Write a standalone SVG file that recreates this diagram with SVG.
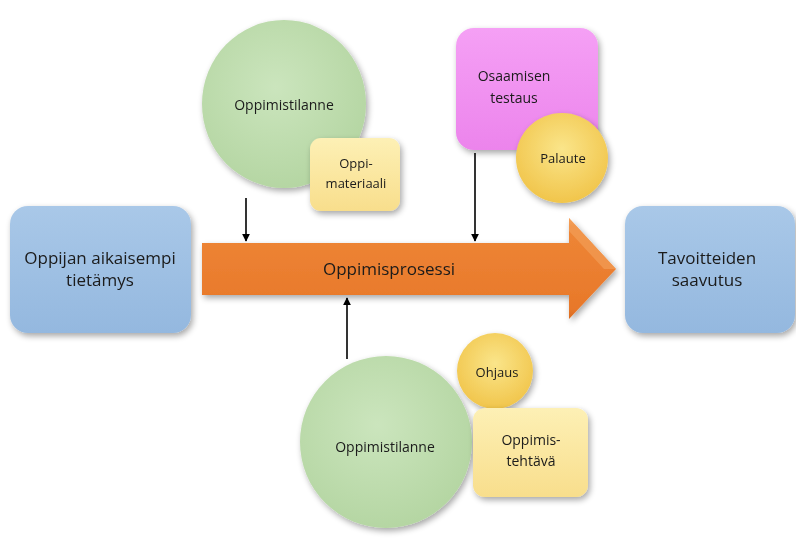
<svg xmlns="http://www.w3.org/2000/svg" width="796" height="547" viewBox="0 0 796 547">
<defs>
<filter id="sh" x="-20%" y="-20%" width="140%" height="140%">
<feGaussianBlur in="SourceAlpha" stdDeviation="3"/>
<feOffset dx="2" dy="3" result="b"/>
<feComponentTransfer><feFuncA type="linear" slope="0.35"/></feComponentTransfer>
<feMerge><feMergeNode/><feMergeNode in="SourceGraphic"/></feMerge>
</filter>
<linearGradient id="gBlue" x1="0" y1="0" x2="0" y2="1"><stop offset="0" stop-color="#a9c8e8"/><stop offset="1" stop-color="#94b8df"/></linearGradient>
<radialGradient id="gGreen" cx="0.45" cy="0.4" r="0.6"><stop offset="0" stop-color="#cbe5bd"/><stop offset="1" stop-color="#b5d6a3"/></radialGradient>
<linearGradient id="gYel" x1="0" y1="0" x2="0" y2="1"><stop offset="0" stop-color="#fdf0b5"/><stop offset="1" stop-color="#f8de8c"/></linearGradient>
<radialGradient id="gGold" cx="0.5" cy="0.4" r="0.6"><stop offset="0" stop-color="#fae58a"/><stop offset="1" stop-color="#f1c54b"/></radialGradient>
<linearGradient id="gPink" x1="0" y1="0" x2="0" y2="1"><stop offset="0" stop-color="#f5a0f5"/><stop offset="1" stop-color="#ec84ec"/></linearGradient>
<linearGradient id="gOr" x1="0" y1="0" x2="0" y2="1"><stop offset="0" stop-color="#f5a35a"/><stop offset="0.08" stop-color="#ee8636"/><stop offset="0.9" stop-color="#e8782a"/><stop offset="1" stop-color="#d86a1f"/></linearGradient>
<marker id="ah" viewBox="0 0 10 10" refX="9" refY="5" markerWidth="5" markerHeight="5" orient="auto"><path d="M0,0 L10,5 L0,10 z" fill="#000"/></marker>
</defs>
<style>
text{font-family:"Open Sans","Liberation Sans",sans-serif;fill:#1a1a1a;text-anchor:middle}
.big{font-size:17px}
.mid{font-size:14px}
.sm{font-size:13px}
.conn line{stroke:#000;stroke-width:1.6;marker-end:url(#ah)}
</style>
<rect width="796" height="547" fill="#fff"/>

<g id="prior" filter="url(#sh)">
<rect x="10" y="206" width="181" height="127" rx="18" fill="url(#gBlue)"/>
<text class="big" x="100" y="264">Oppijan aikaisempi</text>
<text class="big" x="100" y="286">tietämys</text>
</g>

<g id="process" filter="url(#sh)">
<path d="M202,243 L569,243 L569,218 L616,269 L569,319 L569,295 L202,295 z" fill="url(#gOr)"/>
<path d="M569,218 L616,269 L604,269 L569,231 z" fill="#f4a25e" opacity="0.6"/>
<text class="big" x="389" y="275">Oppimisprosessi</text>
</g>

<g id="goal" filter="url(#sh)">
<rect x="625" y="206" width="170" height="127" rx="18" fill="url(#gBlue)"/>
<text class="big" x="707" y="264">Tavoitteiden</text>
<text class="big" x="707" y="286">saavutus</text>
</g>

<g id="situation-top" filter="url(#sh)">
<ellipse cx="284" cy="104" rx="82" ry="84" fill="url(#gGreen)"/>
<text class="mid" x="284" y="110">Oppimistilanne</text>
</g>
<g id="material" filter="url(#sh)">
<rect x="310" y="138" width="90" height="73" rx="11" fill="url(#gYel)"/>
<text class="sm" x="356" y="168">Oppi-</text>
<text class="sm" x="356" y="188">materiaali</text>
</g>

<g id="testing" filter="url(#sh)">
<rect x="456" y="28" width="142" height="122" rx="18" fill="url(#gPink)"/>
<text class="mid" x="514" y="81">Osaamisen</text>
<text class="mid" x="514" y="103">testaus</text>
</g>
<g id="feedback" filter="url(#sh)">
<ellipse cx="562" cy="158" rx="46" ry="45" fill="url(#gGold)"/>
<text class="sm" x="563" y="163">Palaute</text>
</g>

<g id="situation-bottom" filter="url(#sh)">
<ellipse cx="386" cy="442" rx="86" ry="86" fill="url(#gGreen)"/>
<text class="mid" x="385" y="452">Oppimistilanne</text>
</g>
<g id="guidance" filter="url(#sh)">
<ellipse cx="495" cy="371" rx="38" ry="38" fill="url(#gGold)"/>
<text class="sm" x="497" y="377">Ohjaus</text>
</g>
<g id="task" filter="url(#sh)">
<rect x="473" y="408" width="115" height="89" rx="12" fill="url(#gYel)"/>
<text class="mid" x="531" y="445">Oppimis-</text>
<text class="mid" x="531" y="466">tehtävä</text>
</g>

<g id="connectors" class="conn">
<line x1="246" y1="198" x2="246" y2="241"/>
<line x1="475" y1="153" x2="475" y2="241"/>
<line x1="347" y1="359" x2="347" y2="298"/>
</g>
</svg>
